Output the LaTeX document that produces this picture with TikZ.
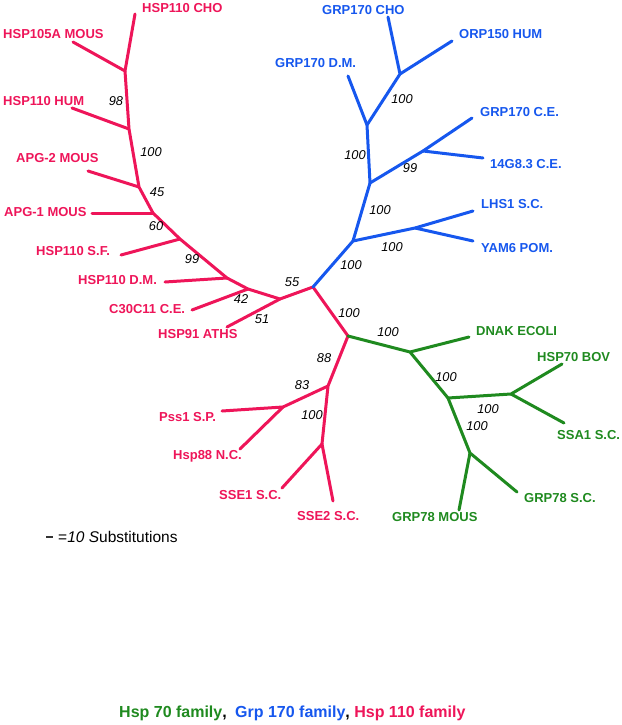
\documentclass[tikz,border=0pt]{standalone}
\usepackage{fontspec}
\setmainfont{Liberation Sans}
\usetikzlibrary{positioning}
\definecolor{hspred}{HTML}{EE1559}
\definecolor{grpblue}{HTML}{1657EE}
\definecolor{dnakgreen}{HTML}{1F8A1F}
\tikzset{
  hbr/.style={draw=hspred, line width=3pt, line cap=round, line join=round},
  gbr/.style={draw=grpblue, line width=3pt, line cap=round, line join=round},
  kbr/.style={draw=dnakgreen, line width=3pt, line cap=round, line join=round},
  tip/.style={font=\fontsize{13}{15}\selectfont\bfseries, anchor=west, inner sep=0pt},
  htip/.style={tip, text=hspred},
  gtip/.style={tip, text=grpblue},
  ktip/.style={tip, text=dnakgreen},
  boot/.style={font=\fontsize{12.8}{14}\selectfont\itshape, inner sep=0pt},
  fam/.style={font=\fontsize{16}{18}\selectfont\bfseries, inner sep=0pt},
}
\begin{document}
\begin{tikzpicture}[x=1pt, y=-1pt]
    \useasboundingbox (0,0) rectangle (621,725);
    % inner points of the tree
    \coordinate (root) at (313,287);
    \coordinate (r1) at (125,71);  \coordinate (r2) at (129,129);
    \coordinate (r3) at (139,187); \coordinate (r4) at (153,213);
    \coordinate (r5) at (180,239); \coordinate (r6) at (227,278);
    \coordinate (r7) at (248,289); \coordinate (r8) at (280,299);
    \coordinate (b1) at (353,241); \coordinate (b2) at (370,183);
    \coordinate (b3) at (367,125); \coordinate (b4) at (400,74);
    \coordinate (b5) at (423,151); \coordinate (b6) at (415,228);
    \coordinate (s1) at (348,336); \coordinate (s2) at (328,386);
    \coordinate (s3) at (283,407); \coordinate (s4) at (322,444);
    \coordinate (k1) at (410,352); \coordinate (k2) at (448,398);
    \coordinate (k3) at (511,394); \coordinate (k4) at (470,453);
    % leaf ends
    \coordinate (tCHO) at (135,14);   \coordinate (t105) at (73,42);
    \coordinate (tHUM) at (72,108);   \coordinate (tAPGb) at (88,171);
    \coordinate (tAPGa) at (92,213);  \coordinate (tSF) at (121,255);
    \coordinate (tDM) at (165,282);   \coordinate (tC30) at (192,310);
    \coordinate (tATHS) at (227,327);
    \coordinate (tGCHO) at (388,17);  \coordinate (tORP) at (452,41);
    \coordinate (tGDM) at (348,76);   \coordinate (tGCE) at (472,118);
    \coordinate (t14G) at (483,158);  \coordinate (tLHS) at (473,211);
    \coordinate (tYAM) at (473,241);
    \coordinate (tPss) at (222,411);  \coordinate (tHsp) at (240,449);
    \coordinate (tSSEa) at (282,488); \coordinate (tSSEb) at (333,501);
    \coordinate (tDNAK) at (469,337); \coordinate (tBOV) at (562,364);
    \coordinate (tSSA) at (564,423);  \coordinate (tGRPsc) at (517,492);
    \coordinate (tGRPm) at (459,510);

    % Hsp 110 branches
    \draw[hbr] (tCHO) -- (r1) -- (r2) -- (r3) -- (r4) -- (r5) -- (r6) -- (r7) -- (r8) -- (root) -- (s1) -- (s2) -- (s4);
    \draw[hbr] (t105) -- (r1);
    \draw[hbr] (tHUM) -- (r2);
    \draw[hbr] (tAPGb) -- (r3);
    \draw[hbr] (tAPGa) -- (r4);
    \draw[hbr] (tSF) -- (r5);
    \draw[hbr] (tDM) -- (r6);
    \draw[hbr] (tC30) -- (r7);
    \draw[hbr] (tATHS) -- (r8);
    \draw[hbr] (s2) -- (s3) -- (tPss);
    \draw[hbr] (s3) -- (tHsp);
    \draw[hbr] (tSSEa) -- (s4) -- (tSSEb);
    % Grp 170 branches
    \draw[gbr] (root) -- (b1) -- (b2) -- (b3) -- (b4) -- (tGCHO);
    \draw[gbr] (b4) -- (tORP);
    \draw[gbr] (b3) -- (tGDM);
    \draw[gbr] (b2) -- (b5) -- (tGCE);
    \draw[gbr] (b5) -- (t14G);
    \draw[gbr] (b1) -- (b6) -- (tLHS);
    \draw[gbr] (b6) -- (tYAM);
    % Hsp 70 branches
    \draw[kbr] (s1) -- (k1) -- (tDNAK);
    \draw[kbr] (k1) -- (k2) -- (k3) -- (tBOV);
    \draw[kbr] (k3) -- (tSSA);
    \draw[kbr] (k2) -- (k4) -- (tGRPsc);
    \draw[kbr] (k4) -- (tGRPm);

    % leaf names
    \node[htip] (nCHO) at (142,8) {HSP110 CHO};
    \node[htip] (n105) at (3,34) {HSP105A MOUS};
    \node[htip] (nHUM) at (3,101) {HSP110 HUM};
    \node[htip] (nAPGb) at (16,158) {APG-2 MOUS};
    \node[htip] (nAPGa) at (4,212) {APG-1 MOUS};
    \node[htip] (nSF) at (36,251) {HSP110 S.F.};
    \node[htip] (nDM) at (78,280) {HSP110 D.M.};
    \node[htip] (nC30) at (109,309) {C30C11 C.E.};
    \node[htip] (nATHS) at (158,334) {HSP91 ATHS};
    \node[htip] (nPss) at (159,417) {Pss1 S.P.};
    \node[htip] (nHsp) at (173,456) {Hsp88 N.C.};
    \node[htip] (nSSEa) at (219,495) {SSE1 S.C.};
    \node[htip] (nSSEb) at (297,516) {SSE2 S.C.};
    \node[gtip] (nGCHO) at (322,10) {GRP170 CHO};
    \node[gtip] (nORP) at (459,34) {ORP150 HUM};
    \node[gtip] (nGDM) at (275,63) {GRP170 D.M.};
    \node[gtip] (nGCE) at (480,112) {GRP170 C.E.};
    \node[gtip] (n14G) at (490,164) {14G8.3 C.E.};
    \node[gtip] (nLHS) at (481,204) {LHS1 S.C.};
    \node[gtip] (nYAM) at (481,248) {YAM6 POM.};
    \node[ktip] (nDNAK) at (476,331) {DNAK ECOLI};
    \node[ktip] (nBOV) at (537,357) {HSP70 BOV};
    \node[ktip] (nSSA) at (557,435) {SSA1 S.C.};
    \node[ktip] (nGRPsc) at (524,498) {GRP78 S.C.};
    \node[ktip] (nGRPm) at (392,517) {GRP78 MOUS};

    % bootstrap values
    \node[boot] (v98) at (116,101) {98};
    \node[boot] (v100a) at (151,152) {100};
    \node[boot] (v45) at (157,192) {45};
    \node[boot] (v60) at (156,226) {60};
    \node[boot] (v99a) at (192,259) {99};
    \node[boot] (v42) at (241,299) {42};
    \node[boot] (v51) at (262,319) {51};
    \node[boot] (v55) at (292,282) {55};
    \node[boot] (v100b) at (402,99) {100};
    \node[boot] (v100c) at (355,155) {100};
    \node[boot] (v99b) at (410,168) {99};
    \node[boot] (v100d) at (380,210) {100};
    \node[boot] (v100e) at (392,247) {100};
    \node[boot] (v100f) at (351,265) {100};
    \node[boot] (v100g) at (349,313) {100};
    \node[boot] (v88) at (324,358) {88};
    \node[boot] (v83) at (302,385) {83};
    \node[boot] (v100h) at (312,415) {100};
    \node[boot] (v100i) at (388,332) {100};
    \node[boot] (v100j) at (446,377) {100};
    \node[boot] (v100k) at (488,409) {100};
    \node[boot] (v100l) at (477,426) {100};

    % scale
    \coordinate (barL) at (46,537);
    \coordinate (barR) at (53,537);
    \draw[line width=1.6pt, black!80] (barL) -- (barR);
    \node[font=\fontsize{15.5}{17}\selectfont, inner sep=0pt, anchor=west] (scale) at (58,537) {=\textit{10 S}ubstitutions};

    % families
    \node[fam, text=dnakgreen, anchor=west] (famK) at (119,713) {Hsp 70 family{\color{black},}};
    \node[fam, text=grpblue, right=8pt of famK] (famG) {Grp 170 family{\color{black},}};
    \node[fam, text=hspred, right=4pt of famG] (famH) {Hsp 110 family};
\end{tikzpicture}
\end{document}
